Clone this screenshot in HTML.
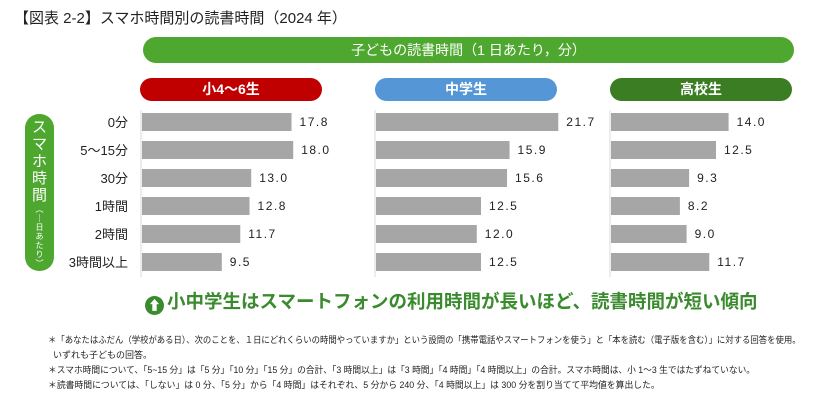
<!DOCTYPE html>
<html><head><meta charset="utf-8"><style>
body{margin:0;width:824px;height:408px;background:#fff;font-family:"Liberation Sans","Noto Sans CJK JP",sans-serif;position:relative;overflow:hidden;color:#222}
.abs{position:absolute}
.pill{position:absolute;color:#fff;text-align:center;font-weight:bold;border-radius:12px}
.fn{position:absolute;left:48px;font-size:9px;white-space:nowrap;color:#222;transform-origin:0 0}
</style></head><body>
<div class="abs" style="left:14px;top:7px;font-size:15px;">【図表 2-2】スマホ時間別の読書時間（2024 年）</div>
<div class="pill" style="left:143px;top:37px;width:651px;height:26px;line-height:26px;background:#4ea72e;font-weight:normal;font-size:14px;border-radius:13px">子どもの読書時間（1 日あたり，分）</div>
<div class="pill" style="left:140px;top:78px;width:182px;height:23px;line-height:23px;background:#c00000;font-size:14px">小4～6生</div>
<div class="pill" style="left:375px;top:78px;width:182px;height:23px;line-height:23px;background:#5597d6;font-size:14px">中学生</div>
<div class="pill" style="left:610px;top:78px;width:182px;height:23px;line-height:23px;background:#3a7d22;font-size:14px">高校生</div>
<div class="pill" style="left:25px;top:114px;width:29px;height:157px;background:#4ea72e;border-radius:14px;font-weight:normal;font-size:15px;line-height:17px;padding-top:5px;box-sizing:border-box;overflow:hidden">ス<br>マ<br>ホ<br>時<br>間<div style="font-size:8px;line-height:9px;margin-top:1px">︵<br>｜<br>日<br>あ<br>た<br>り<br>︶</div></div>
<svg id="chart" class="abs" style="left:0;top:0" width="824" height="290"></svg>
<div class="abs" style="left:145px;top:288px;font-size:18.5px;font-weight:bold;color:#3a8a2e;white-space:nowrap">
<span style="display:inline-block;width:19px;height:19px;border-radius:50%;background:#3a8a2e;color:#fff;font-size:13px;line-height:19px;text-align:center;vertical-align:-2px;margin-right:3px">⬆</span>小中学生はスマートフォンの利用時間が長いほど、読書時間が短い傾向</div>
<div class="fn" style="top:333px;transform:scaleX(0.93)">＊「あなたはふだん（学校がある日）、次のことを、１日にどれくらいの時間やっていますか」という設問の「携帯電話やスマートフォンを使う」と「本を読む（電子版を含む）」に対する回答を使用。</div>
<div class="fn" style="top:348px">&nbsp;&nbsp;いずれも子どもの回答。</div>
<div class="fn" style="top:363px;transform:scaleX(0.97)">＊スマホ時間について、「5~15 分」は「5 分」「10 分」「15 分」の合計、「3 時間以上」は「3 時間」「4 時間」「4 時間以上」の合計。スマホ時間は、小 1～3 生ではたずねていない。</div>
<div class="fn" style="top:378px;transform:scaleX(0.98)">＊読書時間については、「しない」は 0 分、「5 分」から「4 時間」はそれぞれ、5 分から 240 分、「4 時間以上」は 300 分を割り当てて平均値を算出した。</div>
<script>
const categories=["0分","5～15分","30分","1時間","2時間","3時間以上"];
const elementary=[17.8,18.0,13.0,12.8,11.7,9.5];
const juniorHigh=[21.7,15.9,15.6,12.5,12.0,12.5];
const highSchool=[14.0,12.5,9.3,8.2,9.0,11.7];
const svg=document.getElementById('chart');
const NS='http://www.w3.org/2000/svg';
const scale=v=>v*8.4;
const rowY=i=>113+i*28;
const panels=[[141,elementary,'elementary'],[375,juniorHigh,'junior-high'],[610,highSchool,'high-school']];
categories.forEach((c,i)=>{
  const t=document.createElementNS(NS,'text');
  
  
  t.setAttribute('x',128);t.setAttribute('y',rowY(i)+14);t.setAttribute('text-anchor','end');
  t.setAttribute('font-size','13');t.setAttribute('fill','#222');t.textContent=c;svg.appendChild(t);
});
panels.forEach(([x0,vals,nm])=>{
  const ax=document.createElementNS(NS,'line');
  
  
  ax.setAttribute('x1',x0);ax.setAttribute('x2',x0);ax.setAttribute('y1',110);ax.setAttribute('y2',277);
  ax.setAttribute('stroke','#d9d9d9');svg.appendChild(ax);
  vals.forEach((v,i)=>{
    const r=document.createElementNS(NS,'rect');
    
    
    r.setAttribute('x',x0+1);r.setAttribute('y',rowY(i));r.setAttribute('width',scale(v));r.setAttribute('height',18);
    r.setAttribute('fill','#a6a6a6');svg.appendChild(r);
    const t=document.createElementNS(NS,'text');
    
    
    t.setAttribute('x',x0+scale(v)+9);t.setAttribute('y',rowY(i)+13);
    t.setAttribute('font-size','12');t.setAttribute('letter-spacing','1.5');t.setAttribute('fill','#222');
    t.textContent=v.toFixed(1);svg.appendChild(t);
  });
});
</script>
</body></html>
